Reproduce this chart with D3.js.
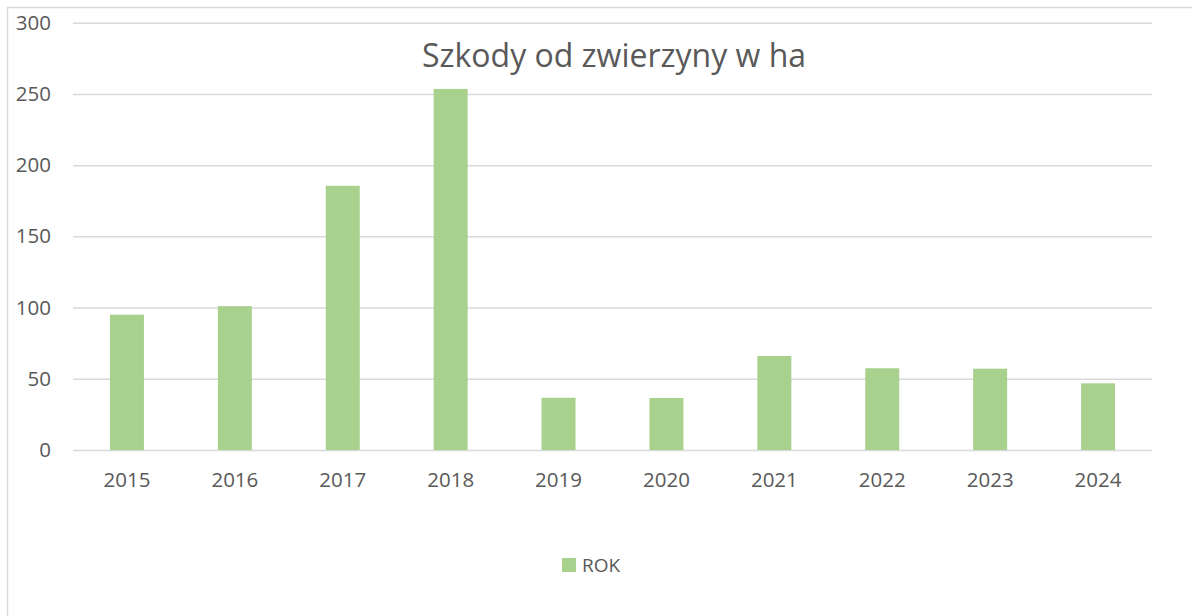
<!DOCTYPE html>
<html>
<head>
<meta charset="utf-8">
<script src="https://cdn.jsdelivr.net/npm/d3@7"></script>
<style>
  body { margin: 0; background: #fff; }
  svg { display: block; }
  svg text { font-family: "Open Sans", "Noto Sans", sans-serif; }
  .grid line { stroke: #d9d9d9; stroke-width: 1.5; }
  .tick text { fill: #595959; font-size: 20.5px; }
</style>
</head>
<body>
<svg width="1192" height="616"></svg>
<script>
// data
var years = ["2015", "2016", "2017", "2018", "2019", "2020", "2021", "2022", "2023", "2024"];
var values = [95, 101, 185.5, 253.5, 36.7, 36.5, 66, 57.4, 57.1, 46.8];
var yTicks = [0, 50, 100, 150, 200, 250, 300];
var title = "Szkody od zwierzyny w ha";
var seriesName = "ROK";

var svg = d3.select("svg");

// chart frame (cut off at right and bottom like the source)
svg.append("rect")
  .attr("x", 7.5).attr("y", 7.5)
  .attr("width", 1200).attr("height", 620)
  .attr("fill", "none")
  .attr("stroke", "#d9d9d9")
  .attr("stroke-width", 1.5);

var x = d3.scaleBand()
  .domain(years)
  .range([73, 1152])
  .paddingInner(0.685)
  .paddingOuter(0.3425);

var y = d3.scaleLinear()
  .domain([0, 300])
  .range([450, 22.7]);

// gridlines + y labels
var yAxis = svg.append("g")
  .attr("class", "grid")
  .attr("transform", "translate(73,0)")
  .call(d3.axisLeft(y).tickValues(yTicks).tickSize(-(1152 - 73)).tickPadding(22));
yAxis.select(".domain").remove();

// bars
svg.selectAll(".bar")
  .data(values)
  .enter()
  .append("rect")
    .attr("class", "bar")
    .attr("x", function(d, i){ return x(years[i]) })
    .attr("width", x.bandwidth())
    .attr("y", function(d){ return y(d) })
    .attr("height", function(d){ return y(0) - y(d) })
    .attr("fill", "#a9d18e");

// x labels
var xAxis = svg.append("g")
  .attr("transform", "translate(0,450)")
  .call(d3.axisBottom(x).tickSize(0).tickPadding(22));
xAxis.select(".domain").remove();

// title
svg.append("text")
  .attr("x", 614)
  .attr("y", 67)
  .attr("text-anchor", "middle")
  .attr("fill", "#595959")
  .style("font-size", "32px")
  .text(title);

// legend
svg.append("rect")
  .attr("x", 562).attr("y", 558)
  .attr("width", 14).attr("height", 14)
  .attr("fill", "#a9d18e");
svg.append("text")
  .attr("x", 582)
  .attr("y", 565)
  .attr("dy", "0.35em")
  .attr("fill", "#595959")
  .style("font-size", "19px")
  .text(seriesName);
</script>
</body>
</html>
